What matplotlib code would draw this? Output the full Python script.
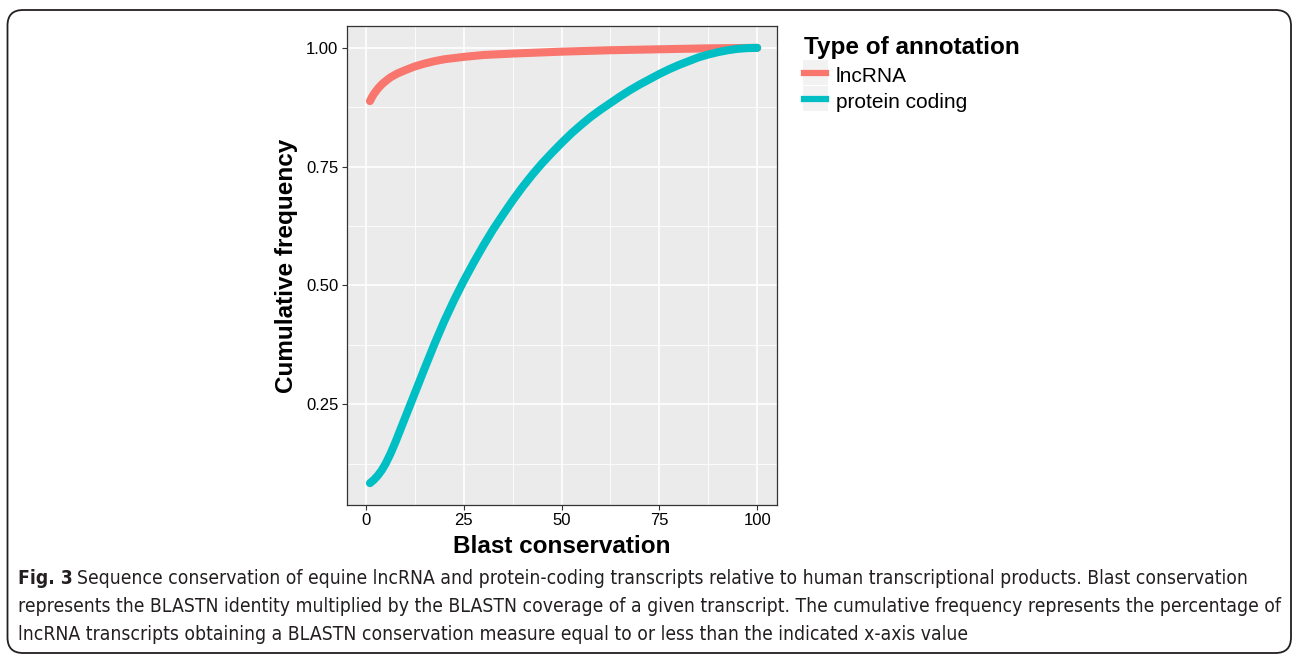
import matplotlib.pyplot as plt
from matplotlib.patches import FancyBboxPatch, Rectangle
from matplotlib.lines import Line2D

# cumulative frequency curves
lnc_x = [1, 1.5, 2, 3, 4, 5, 6.25, 8, 10, 12.5, 15, 17.5, 20, 25, 30, 37.5, 50, 62.5, 75, 87.5, 100]
lnc_y = [0.888, 0.896, 0.903, 0.914, 0.923, 0.930, 0.938, 0.946, 0.953, 0.961, 0.967,
         0.972, 0.976, 0.981, 0.985, 0.988, 0.992, 0.995, 0.997, 0.999, 1.0]

pc_x = [1, 2, 3, 4, 5, 6.25, 7.5, 10, 12.5, 15, 17.5, 20, 22.5, 25, 27.5, 30, 32.5, 35,
        37.5, 40, 42.5, 45, 47.5, 50, 52.5, 55, 57.5, 60, 62.5, 65, 67.5, 70, 72.5, 75,
        77.5, 80, 82.5, 85, 87.5, 90, 92.5, 95, 97.5, 100]
pc_y = [0.084, 0.091, 0.100, 0.111, 0.125, 0.146, 0.170, 0.222, 0.274, 0.326, 0.377,
        0.425, 0.469, 0.510, 0.548, 0.584, 0.618, 0.649, 0.679, 0.707, 0.733, 0.757,
        0.779, 0.800, 0.820, 0.838, 0.855, 0.870, 0.884, 0.898, 0.911, 0.923, 0.934,
        0.945, 0.955, 0.964, 0.972, 0.980, 0.986, 0.991, 0.995, 0.998, 0.9995, 1.0]

series_names = ["lncRNA", "protein coding"]
series_colors = ["#F8766D", "#00BFC4"]

x_ticks = [0, 25, 50, 75, 100]
y_ticks = [0.25, 0.50, 0.75, 1.00]
y_tick_labels = ["0.25", "0.50", "0.75", "1.00"]

caption_lines = [
    "Sequence conservation of equine lncRNA and protein-coding transcripts relative to human transcriptional products. Blast conservation",
    "represents the BLASTN identity multiplied by the BLASTN coverage of a given transcript. The cumulative frequency represents the percentage of",
    "lncRNA transcripts obtaining a BLASTN conservation measure equal to or less than the indicated x-axis value",
]

plt.rcParams['font.family'] = ['Liberation Sans', 'DejaVu Sans']

W, H = 1293, 655
fig = plt.figure(figsize=(W / 100, H / 100), dpi=100)

# rounded frame around figure + caption
frame = FancyBboxPatch((7.5 / W, 2 / H), (1291 - 7.5) / W, (645 - 2) / H,
                       boxstyle="round,pad=0,rounding_size=0.012",
                       transform=fig.transFigure, fill=False,
                       edgecolor="#231f20", linewidth=1.3, mutation_aspect=W / H)
fig.patches.append(frame)

ax = fig.add_axes([346.5 / W, 1 - 505 / H, (776.7 - 346.5) / W, (505 - 26) / H])
ax.set_facecolor("#EBEBEB")
ax.set_xlim(-5, 105)
ax.set_ylim(0.038, 1.046)

ax.set_xticks(x_ticks)
ax.set_xticks([12.5, 37.5, 62.5, 87.5], minor=True)
ax.set_yticks(y_ticks)
ax.set_yticklabels(y_tick_labels)
ax.set_yticks([0.125, 0.375, 0.625, 0.875], minor=True)
ax.grid(which="major", color="white", linewidth=1.2)
ax.grid(which="minor", color="white", linewidth=0.6)
ax.set_axisbelow(True)
ax.tick_params(which="major", length=3.8, width=0.8, color="#333333",
               labelsize=12, labelcolor="black", pad=2)
ax.tick_params(which="minor", length=0)
for s in ax.spines.values():
    s.set_color("#333333")
    s.set_linewidth(0.9)

ax.plot(lnc_x, lnc_y, color=series_colors[0], linewidth=5.8, solid_capstyle="round")
ax.plot(pc_x, pc_y, color=series_colors[1], linewidth=5.8, solid_capstyle="round")

ax.set_xlabel("Blast conservation", fontsize=17.5, fontweight="bold", labelpad=5)
ax.set_ylabel("Cumulative frequency", fontsize=17.5, fontweight="bold", labelpad=6)

# legend, ggplot style
handles = [Line2D([], [], color=c, linewidth=4.5) for c in series_colors]
leg = fig.legend(handles, series_names, loc="upper left",
                 bbox_to_anchor=(796 / W, 1 - 28 / H), frameon=False,
                 title="Type of annotation", fontsize=15, handlelength=1.05,
                 handleheight=1.25, handletextpad=0.45, labelspacing=0.2,
                 borderaxespad=0)
leg.get_title().set_fontweight("bold")
leg.get_title().set_fontsize(17.5)
leg._legend_box.align = "left"

fig.canvas.draw()
renderer = fig.canvas.get_renderer()

# grey key backgrounds like ggplot
for ln in leg.get_lines():
    lb = ln.get_window_extent(renderer)
    cy = (lb.y0 + lb.y1) / 2
    cx = (lb.x0 + lb.x1) / 2
    fig.patches.append(Rectangle(((cx - 12.5) / W, (cy - 12.5) / H), 25 / W, 25 / H,
                                 transform=fig.transFigure, facecolor="#F2F2F2",
                                 edgecolor="none", zorder=0))

# caption
cap_font = ['DejaVu Sans']
cap_size = 13.5
line_y = [578, 606, 634]
probe = fig.text(0, 0, caption_lines[1], fontsize=cap_size, family=cap_font,
                 fontstretch="condensed")
pw = probe.get_window_extent(renderer).width
probe.remove()
cap_size = cap_size * (1276 - 18) / pw

t = fig.text(18 / W, 1 - line_y[0] / H, "Fig. 3", fontsize=cap_size, fontweight="bold",
             family=cap_font, fontstretch="condensed", va="center", ha="left",
             color="#231f20")
bb = t.get_window_extent(renderer)
fig.text((bb.x1 + 4) / W, 1 - line_y[0] / H, caption_lines[0], fontsize=cap_size,
         family=cap_font, fontstretch="condensed", va="center", ha="left",
         color="#231f20")
for txt, yy in zip(caption_lines[1:], line_y[1:]):
    fig.text(18 / W, 1 - yy / H, txt, fontsize=cap_size, family=cap_font,
             fontstretch="condensed", va="center", ha="left", color="#231f20")

fig.savefig("out.png", dpi=100)
